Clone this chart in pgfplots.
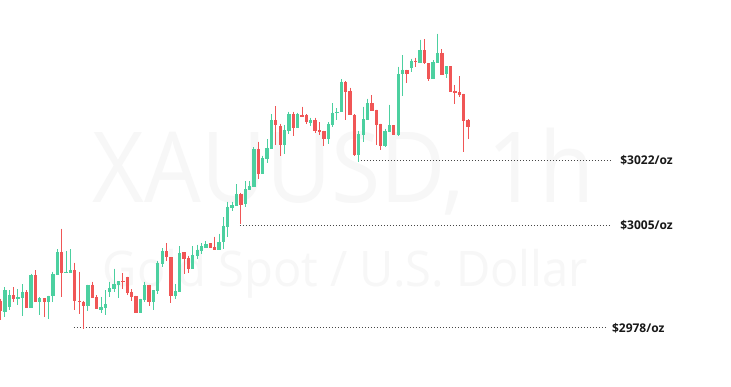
\documentclass[border=0pt]{standalone}
\usepackage{pgfplots}
\usepackage{pgfplotstable}
\pgfplotsset{compat=1.18}
\usepackage{fontspec}
\setmainfont{Open Sans}
\definecolor{cgreen}{RGB}{76,208,160}
\definecolor{cred}{RGB}{240,86,86}
\definecolor{wmark}{RGB}{247,247,247}
\definecolor{lvl}{RGB}{70,70,70}

% i open high low close
\pgfplotstableread{
i o h l c
1 2982.2 2988.7 2980.9 2987.9
2 2983.5 2987.9 2982.7 2986.6
4 2985.6 2988.2 2984.0 2986.1
5 2985.8 2989.5 2981.1 2987.4
7 2983.2 2992.2 2983.2 2991.9
9 2984.8 2986.1 2981.4 2985.8
11 2984.8 2986.4 2980.3 2986.4
12 2986.4 2992.7 2984.8 2992.2
13 2991.9 2998.7 2991.9 2997.9
15 2992.4 2998.2 2992.4 2992.7
16 2992.4 2998.7 2992.4 2993.2
20 2983.7 2989.3 2982.4 2989.3
23 2982.7 2986.1 2981.9 2983.5
24 2983.2 2987.9 2981.4 2984.3
25 2987.4 2990.1 2986.1 2988.5
26 2988.2 2993.5 2987.4 2989.5
27 2989.3 2990.3 2985.8 2990.3
32 2981.9 2985.6 2981.9 2985.6
33 2985.3 2990.1 2984.8 2989.3
35 2984.8 2987.9 2982.7 2987.9
36 2987.7 2995.6 2986.9 2995.1
37 2994.8 2999.0 2994.0 2998.2
40 2986.4 2989.5 2985.6 2987.7
41 2987.4 2999.5 2987.4 2997.7
44 2993.5 2999.5 2993.5 2997.2
45 2996.9 2999.8 2996.1 2998.5
46 2998.2 3000.3 2997.4 2999.5
47 2999.0 3000.8 2999.0 3000.0
50 2998.5 3002.7 2998.5 3000.6
51 3000.6 3007.1 2998.7 3004.8
52 3004.5 3011.1 3001.9 3009.8
53 3009.5 3011.1 3008.7 3010.3
54 3010.0 3015.8 3010.0 3013.2
56 3010.6 3016.6 3009.8 3014.5
57 3014.2 3016.6 3014.2 3015.3
58 3015.0 3025.5 3015.0 3025.0
60 3018.4 3023.2 3018.4 3022.6
61 3022.4 3027.6 3021.3 3025.3
62 3025.0 3034.2 3025.0 3032.6
65 3026.1 3031.3 3023.7 3030.0
66 3029.8 3034.8 3029.0 3034.2
68 3030.5 3034.5 3030.5 3034.2
71 3031.9 3033.2 3031.1 3032.6
75 3027.6 3032.1 3026.3 3031.6
76 3031.3 3037.1 3030.8 3034.5
77 3034.5 3035.8 3032.6 3034.8
78 3034.8 3043.4 3034.8 3042.6
82 3023.4 3029.8 3021.6 3029.0
83 3028.7 3036.1 3026.9 3032.9
84 3032.6 3038.2 3032.6 3037.1
88 3025.8 3030.3 3025.5 3029.8
89 3029.5 3036.6 3029.5 3031.3
91 3028.7 3046.6 3028.4 3044.7
92 3044.7 3049.7 3039.0 3045.8
94 3046.3 3048.7 3045.3 3048.2
96 3047.6 3053.7 3047.6 3051.0
99 3043.4 3048.4 3043.4 3047.9
100 3047.6 3055.3 3047.6 3050.3
102 3044.7 3046.8 3043.7 3046.8
}\greendata

\pgfplotstableread{
i o h l c
0 2985.1 2985.6 2980.1 2982.4
3 2986.6 2988.7 2984.8 2985.6
6 2987.4 2987.9 2983.2 2983.2
8 2991.9 2993.2 2984.8 2984.8
10 2985.8 2985.8 2980.9 2984.8
14 2997.9 3004.0 2986.1 2992.4
17 2993.2 2995.1 2982.7 2985.1
18 2985.1 2992.7 2981.6 2984.8
19 2984.8 2985.1 2977.7 2983.7
21 2989.3 2990.1 2985.8 2985.8
22 2986.1 2986.6 2983.0 2983.0
28 2990.4 2992.4 2988.2 2990.1
29 2991.4 2991.4 2986.6 2987.2
30 2987.4 2988.2 2985.1 2986.1
31 2986.4 2986.4 2981.9 2981.9
34 2989.3 2989.3 2983.7 2984.8
38 2998.2 3000.3 2995.6 2996.6
39 2996.6 2996.6 2984.5 2986.4
42 2997.9 2997.9 2992.2 2996.1
43 2996.4 2996.9 2992.4 2993.5
48 3000.3 3000.3 2999.0 2999.0
49 2999.3 3001.9 2998.5 2998.5
55 3013.2 3013.5 3005.3 3010.3
59 3025.0 3026.9 3017.1 3018.4
63 3032.6 3036.3 3026.1 3031.3
64 3031.1 3031.6 3023.2 3026.1
67 3034.2 3034.8 3028.4 3030.5
69 3034.0 3036.1 3033.4 3033.4
70 3034.0 3034.2 3031.6 3032.1
72 3032.6 3033.2 3029.2 3029.8
73 3030.0 3032.1 3028.7 3029.5
74 3029.8 3029.8 3025.8 3027.6
79 3042.6 3042.9 3032.6 3040.0
80 3040.3 3041.1 3034.0 3034.0
81 3034.0 3034.2 3023.2 3023.4
85 3037.1 3039.2 3035.0 3035.0
86 3035.3 3035.3 3026.1 3031.3
87 3031.6 3031.6 3024.8 3025.8
90 3031.3 3031.3 3028.7 3028.7
93 3045.8 3045.8 3042.4 3044.7
95 3048.2 3049.0 3046.6 3047.9
97 3051.0 3053.9 3047.4 3047.6
98 3047.6 3047.6 3042.9 3043.4
101 3050.3 3051.3 3044.5 3044.5
103 3046.8 3046.8 3040.0 3040.0
104 3040.3 3041.8 3036.9 3039.7
105 3040.0 3044.2 3038.7 3039.2
106 3039.5 3039.5 3024.2 3032.4
107 3032.6 3032.9 3027.6 3030.8
}\reddata

\pgfplotsset{
  candle/.style n args={2}{only marks, mark size=0pt, mark options={draw=none, fill=none},
    error bars/.cd, y dir=minus, y explicit, error mark=none,
    error bar style={line width=#1, draw=#2}},
}

\begin{document}
\begin{tikzpicture}[x=1pt,y=1pt]
\useasboundingbox[fill=white] (0,0) rectangle (731,387);
% watermark (pixel coords: x, 387 - y)
\node[anchor=base, inner sep=0pt, text=wmark, font=\fontsize{98}{98}\selectfont] at (343.5,184) {\scalebox{0.915}[1]{XAUUSD, 1h}};
\node[anchor=base, inner sep=0pt, text=wmark, font=\fontsize{49}{49}\selectfont] at (345.5,100) {\scalebox{0.96}[1]{Gold Spot / U.S. Dollar}};
\begin{axis}[
  at={(0,0)}, anchor=south west,
  width=731pt, height=387pt, scale only axis,
  hide axis, clip=false,
  xmin=-0.1144, xmax=167.16,
  ymin=2962.46, ymax=3064.20,
]
% level lines
\addplot[lvl, line width=0.9pt, dash pattern=on 0.9pt off 2.1pt] coordinates {(81.8,3022) (139.9,3022)};
\addplot[lvl, line width=0.9pt, dash pattern=on 0.9pt off 2.1pt] coordinates {(54.8,3005) (139.9,3005)};
\addplot[lvl, line width=0.9pt, dash pattern=on 0.9pt off 2.1pt] coordinates {(16.8,2978) (138.6,2978)};
% wicks
\addplot[candle={1pt}{cgreen}] table[x=i, y=h, y error expr=\thisrow{h}-\thisrow{l}] {\greendata};
\addplot[candle={1pt}{cred}] table[x=i, y=h, y error expr=\thisrow{h}-\thisrow{l}] {\reddata};
% bodies
\addplot[candle={3.3pt}{cgreen}] table[x=i, y=c, y error expr={max(\thisrow{c}-\thisrow{o},0.3)}] {\greendata};
\addplot[candle={3.3pt}{cred}] table[x=i, y=o, y error expr={max(\thisrow{o}-\thisrow{c},0.3)}] {\reddata};
% labels
\node[anchor=west, inner sep=0pt, font=\fontsize{12}{12}\selectfont\bfseries, text=black!90] at (axis cs:141.8,3022) {\$3022/oz};
\node[anchor=west, inner sep=0pt, font=\fontsize{12}{12}\selectfont\bfseries, text=black!90] at (axis cs:141.8,3005) {\$3005/oz};
\node[anchor=west, inner sep=0pt, font=\fontsize{12}{12}\selectfont\bfseries, text=black!90] at (axis cs:139.9,2978) {\$2978/oz};
\end{axis}
\end{tikzpicture}
\end{document}
